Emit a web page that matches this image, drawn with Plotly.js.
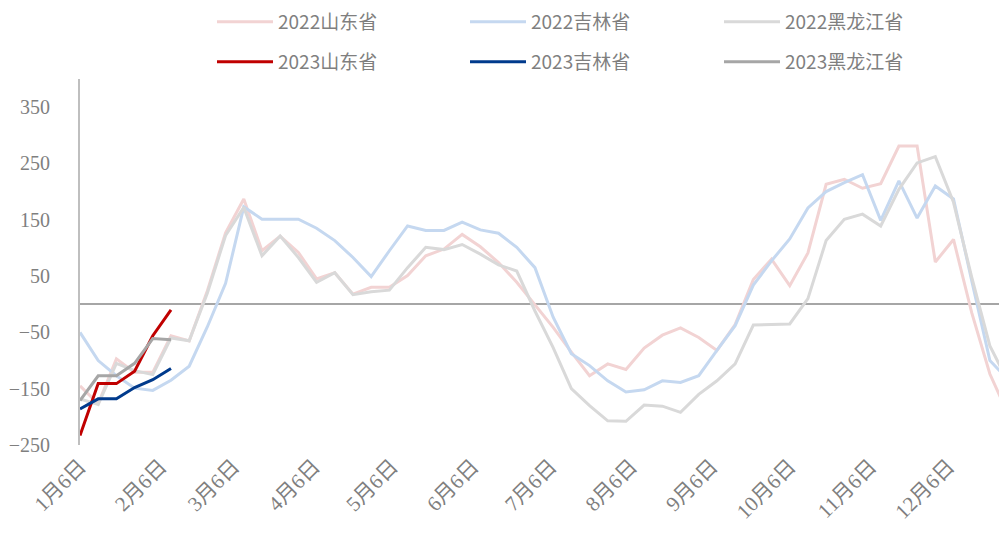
<!DOCTYPE html>
<html>
<head>
<meta charset="utf-8">
<script src="https://cdn.plot.ly/plotly-3.0.1.min.js"></script>
<style>html,body{margin:0;padding:0;background:#fff;}#chart{width:999px;height:535px;}</style>
</head>
<body>
<div id="chart"></div>
<script>
// weekly dates (x categories)
const weeks = ['2022-01-06','2022-01-13','2022-01-20','2022-01-27','2022-02-03','2022-02-10','2022-02-17','2022-02-24',
 '2022-03-03','2022-03-10','2022-03-17','2022-03-24','2022-03-31','2022-04-07','2022-04-14','2022-04-21','2022-04-28',
 '2022-05-05','2022-05-12','2022-05-19','2022-05-26','2022-06-02','2022-06-09','2022-06-16','2022-06-23','2022-06-30',
 '2022-07-07','2022-07-14','2022-07-21','2022-07-28','2022-08-04','2022-08-11','2022-08-18','2022-08-25',
 '2022-09-01','2022-09-08','2022-09-15','2022-09-22','2022-09-29','2022-10-06','2022-10-13','2022-10-20','2022-10-27',
 '2022-11-03','2022-11-10','2022-11-17','2022-11-24','2022-12-01','2022-12-08','2022-12-15','2022-12-22','2022-12-29'];

const tickDates = ['2022-01-06','2022-02-06','2022-03-06','2022-04-06','2022-05-06','2022-06-06',
 '2022-07-06','2022-08-06','2022-09-06','2022-10-06','2022-11-06','2022-12-06'];
const tickLabels = ['1月6日','2月6日','3月6日','4月6日','5月6日','6月6日','7月6日','8月6日','9月6日','10月6日','11月6日','12月6日'];

const shandong2022 = [-145,-177,-97,-121,-121,-56,-65,24,127,187,95,121,92,45,56,18,30,30,51,86,98,124,102,74,39,0,
 -41,-85,-127,-106,-116,-78,-55,-42,-59,-82,-36,44,80,33,91,213,222,206,214,281,281,75,115,-15,-124,-195];
const jilin2022 = [-50,-100,-127,-149,-153,-135,-110,-40,37,173,151,151,151,135,113,83,49,95,139,131,131,146,132,126,101,65,
 -23,-88,-109,-136,-156,-152,-136,-139,-127,-82,-38,34,77,116,171,200,216,230,149,219,153,210,187,42,-100,-134];
const heilongjiang2022 = [-168,-178,-105,-118,-125,-60,-65,20,122,172,86,121,83,39,56,17,22,25,65,101,97,106,89,70,59,-12,
 -77,-150,-180,-207,-208,-179,-181,-192,-160,-136,-106,-37,-36,-35,10,113,151,160,139,204,251,262,181,48,-74,-138];

const shandong2023 = [-233,-141,-141,-119,-56,-10];
const jilin2023 = [-186,-168,-168,-148,-134,-114];
const heilongjiang2023 = [-171,-127,-127,-105,-61,-63];

const names2022 = ['2022山东省','2022吉林省','2022黑龙江省'];
const names2023 = ['2023山东省','2023吉林省','2023黑龙江省'];

const colors2022 = ['#F2D3D3','#C5D8F0','#D9D9D9'];
const colors2023 = ['#C00000','#003A8C','#A6A6A6'];

const s2022 = [shandong2022, jilin2022, heilongjiang2022];
const s2023 = [shandong2023, jilin2023, heilongjiang2023];

const legendIds = [['legend','legend2','legend3'],['legend4','legend5','legend6']];
const traces = [];
s2022.forEach((v,i)=>traces.push({x: weeks.slice(0, v.length), y: v, type:'scatter', mode:'lines', name: names2022[i],
  line:{color: colors2022[i], width:3}, legend: legendIds[0][i]}));
s2023.forEach((v,i)=>traces.push({x: weeks.slice(0, v.length), y: v, type:'scatter', mode:'lines', name: names2023[i],
  line:{color: colors2023[i], width:3}, legend: legendIds[1][i]}));

const legFont = {family:'Noto Sans CJK SC, sans-serif', size:19, color:'#7F7F7F'};
const colX = [212, 465, 719];
const rowY = [22, 62];
const layout = {
  width:999, height:535,
  margin:{l:80, r:0, t:79, b:90, autoexpand:false},
  paper_bgcolor:'#fff', plot_bgcolor:'#fff',
  showlegend:true,
  xaxis:{type:'date', range:['2022-01-06','2022-12-25 12:00'], tickmode:'array', tickvals:tickDates, ticktext:tickLabels,
    tickangle:-45, showgrid:false, zeroline:false, showline:false, ticks:'', ticklabelstandoff:4,
    tickfont:{family:'Liberation Serif, Noto Sans CJK SC, serif', size:21, color:'#7F7F7F'}},
  yaxis:{range:[-250,400], tickmode:'linear', tick0:-250, dtick:100, showgrid:false,
    zeroline:true, zerolinecolor:'#A6A6A6', zerolinewidth:2,
    showline:true, linecolor:'#BFBFBF', linewidth:2, ticks:'', ticklabelstandoff:24,
    tickfont:{family:'Liberation Serif, serif', size:20, color:'#7F7F7F'}}
};
for (let r = 0; r < 2; r++) {
  for (let c = 0; c < 3; c++) {
    layout[legendIds[r][c]] = {orientation:'h', xref:'container', yref:'container',
      x: colX[c]/999, y: 1 - rowY[r]/535, xanchor:'left', yanchor:'middle',
      font: legFont, itemwidth:56, bgcolor:'rgba(0,0,0,0)'};
  }
}
Plotly.newPlot('chart', traces, layout, {displayModeBar:false, staticPlot:true});
</script>
</body>
</html>
